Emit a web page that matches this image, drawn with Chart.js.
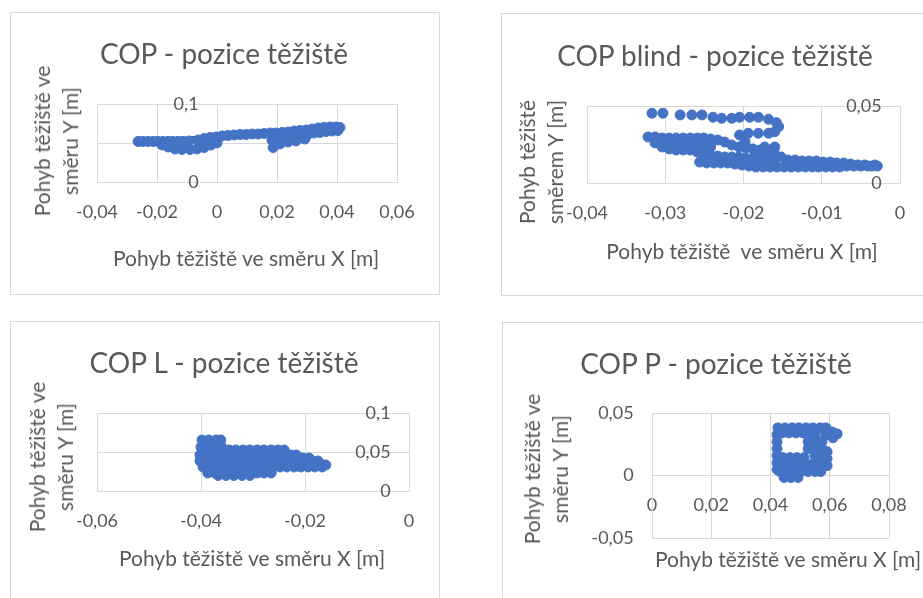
<!DOCTYPE html>
<html>
<head>
<meta charset="utf-8">
<script src="https://cdn.jsdelivr.net/npm/chart.js@4.4.0/dist/chart.umd.min.js"></script>
<style>
body{margin:0;width:923px;height:598px;overflow:hidden;background:#fff;font-family:Lato,sans-serif;color:#595959;position:relative}
.box{position:absolute;width:430px;outline:1px solid #d9d9d9;outline-offset:-1px}
.box canvas{position:absolute;left:0;top:0}
.t{position:absolute;white-space:nowrap;line-height:1;transform:translate(-50%,-50%)}
.title{font-size:28px}
.ax{font-size:21px}
.ay{font-size:21px;line-height:28px;text-align:center;transform:translate(-50%,-50%) rotate(-90deg)}
</style>
</head>
<body>
<div class="box" style="left:10px;top:12px;height:283px"><canvas id="c1" width="430" height="283"></canvas></div>
<div class="box" style="left:501px;top:13px;height:283px"><canvas id="c2" width="430" height="283"></canvas></div>
<div class="box" style="left:10px;top:321px;height:300px"><canvas id="c3" width="430" height="300"></canvas></div>
<div class="box" style="left:502px;top:322px;height:300px"><canvas id="c4" width="430" height="300"></canvas></div>

<div class="t title" style="left:224px;top:53px">COP - pozice těžiště</div>
<div class="t ay" style="left:56px;top:141px">Pohyb těžiště ve<br>směru Y [m]</div>
<div class="t ax" style="left:246px;top:257px">Pohyb těžiště ve směru X [m]</div>

<div class="t title" style="left:715px;top:55px">COP blind - pozice těžiště</div>
<div class="t ay" style="left:541px;top:162px">Pohyb těžiště<br>směrem Y [m]</div>
<div class="t ax" style="left:742px;top:250px">Pohyb těžiště&nbsp; ve směru X [m]</div>

<div class="t title" style="left:224px;top:362px">COP L - pozice těžiště</div>
<div class="t ay" style="left:51px;top:457px">Pohyb těžiště ve<br>směru Y [m]</div>
<div class="t ax" style="left:252px;top:557px">Pohyb těžiště ve směru X [m]</div>

<div class="t title" style="left:716px;top:363px">COP P - pozice těžiště</div>
<div class="t ay" style="left:546px;top:469px">Pohyb těžiště ve<br>směru Y [m]</div>
<div class="t ax" style="left:788px;top:558px">Pohyb těžiště ve směru X [m]</div>

<script>
// COP
var copX = [-0.0263,-0.0247,-0.0230,-0.0213,-0.0197,-0.0180,-0.0163,-0.0147,-0.0130,-0.0113,-0.0093,-0.0063,-0.0043,-0.0023,-0.0003,
  -0.0183,-0.0163,-0.0140,-0.0117,-0.0090,-0.0067,-0.0043,-0.0020,0.0000,
  0.0017,0.0037,0.0057,0.0077,0.0097,0.0117,0.0137,0.0157,0.0177,
  0.0197,0.0217,0.0237,0.0257,0.0277,0.0297,0.0317,0.0337,0.0357,0.0377,0.0397,0.0410,
  0.0183,0.0203,0.0223,0.0243,0.0263,0.0283,0.0303,0.0323,0.0343,0.0363,0.0383,0.0403,
  0.0187,0.0210,0.0237,0.0263,0.0293];
var copY = [0.0520,0.0520,0.0520,0.0520,0.0520,0.0520,0.0520,0.0520,0.0520,0.0520,0.0526,0.0538,0.0558,0.0571,0.0577,
  0.0474,0.0449,0.0423,0.0417,0.0417,0.0423,0.0442,0.0474,0.0500,
  0.0590,0.0596,0.0603,0.0609,0.0609,0.0615,0.0615,0.0622,0.0628,
  0.0628,0.0635,0.0641,0.0654,0.0660,0.0667,0.0679,0.0692,0.0699,0.0705,0.0705,0.0699,
  0.0538,0.0551,0.0564,0.0571,0.0583,0.0596,0.0609,0.0628,0.0635,0.0647,0.0654,0.0660,
  0.0442,0.0487,0.0513,0.0526,0.0551];

// COP blind
var blindX = [-0.0317,-0.0303,-0.0281,-0.0266,-0.0253,-0.0239,-0.0228,-0.0215,-0.0205,-0.0192,-0.0181,-0.0168,-0.0158,-0.0155,-0.0160,-0.0168,-0.0181,-0.0194,-0.0205,
  -0.0198,-0.0173,-0.0160,
  -0.0322,-0.0313,-0.0304,-0.0295,-0.0286,-0.0277,-0.0268,-0.0259,-0.0251,-0.0242,-0.0233,-0.0224,-0.0215,-0.0206,-0.0197,-0.0188,-0.0179,-0.0170,-0.0161,
  -0.0152,-0.0143,-0.0134,-0.0125,-0.0116,-0.0107,-0.0098,-0.0089,-0.0081,-0.0072,-0.0063,-0.0054,-0.0045,-0.0036,-0.0029,
  -0.0295,-0.0286,-0.0277,-0.0268,-0.0259,-0.0251,-0.0242,
  -0.0313,-0.0304,-0.0295,-0.0286,-0.0277,-0.0268,-0.0259,-0.0251,-0.0242,-0.0233,-0.0224,-0.0215,-0.0206,-0.0197,-0.0188,-0.0179,-0.0170,-0.0161,
  -0.0256,-0.0247,-0.0238,-0.0229,-0.0220,-0.0211,-0.0202,-0.0193,-0.0184,-0.0175,-0.0166,-0.0157,-0.0148,-0.0139,-0.0130,-0.0121,-0.0112,
  -0.0104,-0.0095,-0.0086,-0.0077,-0.0068,-0.0059,-0.0050,-0.0041,-0.0032];
var blindY = [0.0453,0.0453,0.0442,0.0442,0.0442,0.0427,0.0420,0.0420,0.0427,0.0427,0.0427,0.0414,0.0392,0.0366,0.0333,0.0323,0.0323,0.0323,0.0312,
  0.0266,0.0234,0.0234,
  0.0299,0.0299,0.0292,0.0292,0.0292,0.0292,0.0292,0.0292,0.0292,0.0286,0.0279,0.0266,0.0247,0.0234,0.0227,0.0221,0.0214,0.0208,0.0201,
  0.0169,0.0149,0.0149,0.0143,0.0143,0.0143,0.0136,0.0136,0.0130,0.0130,0.0123,0.0117,0.0117,0.0110,0.0110,
  0.0260,0.0253,0.0253,0.0253,0.0247,0.0240,0.0234,
  0.0260,0.0234,0.0221,0.0214,0.0214,0.0214,0.0201,0.0195,0.0182,0.0175,0.0169,0.0169,0.0169,0.0162,0.0162,0.0162,0.0162,0.0156,
  0.0136,0.0130,0.0130,0.0130,0.0130,0.0123,0.0117,0.0110,0.0104,0.0104,0.0104,0.0104,0.0104,0.0104,0.0104,0.0104,0.0104,
  0.0104,0.0104,0.0104,0.0104,0.0110,0.0110,0.0110,0.0110,0.0117];

// COP L
var lX = [-0.0398,-0.0385,-0.0371,-0.0362,
  -0.0400,-0.0387,-0.0373,-0.0360,
  -0.0346,-0.0333,-0.0319,-0.0306,-0.0292,-0.0279,-0.0265,-0.0252,-0.0240,
  -0.0402,-0.0388,-0.0375,-0.0362,-0.0348,-0.0335,-0.0321,-0.0308,-0.0294,-0.0281,-0.0267,-0.0254,-0.0240,-0.0227,-0.0217,
  -0.0204,-0.0192,
  -0.0402,-0.0388,-0.0375,-0.0362,-0.0348,-0.0335,-0.0321,-0.0308,-0.0294,-0.0281,-0.0267,-0.0254,-0.0240,-0.0227,-0.0213,-0.0200,-0.0187,-0.0175,
  -0.0165,-0.0160,
  -0.0396,-0.0383,-0.0369,-0.0356,-0.0342,-0.0329,-0.0315,-0.0302,-0.0288,-0.0275,-0.0262,-0.0248,-0.0235,-0.0221,-0.0208,-0.0194,-0.0181,-0.0167,
  -0.0387,-0.0373,-0.0360,-0.0346,-0.0333,-0.0319,-0.0306,-0.0292,-0.0279,-0.0265,
  -0.0367,-0.0352,-0.0337,-0.0321,-0.0306];
var lY = [0.0654,0.0654,0.0654,0.0654,
  0.0564,0.0564,0.0564,0.0564,
  0.0526,0.0526,0.0526,0.0526,0.0526,0.0526,0.0526,0.0526,0.0526,
  0.0462,0.0462,0.0462,0.0462,0.0462,0.0462,0.0462,0.0462,0.0462,0.0462,0.0462,0.0462,0.0462,0.0462,0.0462,
  0.0423,0.0423,
  0.0385,0.0385,0.0385,0.0385,0.0385,0.0385,0.0385,0.0385,0.0385,0.0385,0.0385,0.0385,0.0385,0.0385,0.0385,0.0385,0.0385,0.0385,
  0.0333,0.0333,
  0.0308,0.0308,0.0308,0.0308,0.0308,0.0308,0.0308,0.0308,0.0308,0.0308,0.0308,0.0308,0.0308,0.0308,0.0308,0.0308,0.0308,0.0308,
  0.0231,0.0231,0.0231,0.0231,0.0231,0.0231,0.0231,0.0231,0.0231,0.0231,
  0.0199,0.0199,0.0199,0.0199,0.0199];

// COP P
var pX = [0.0425,0.0449,0.0473,0.0496,0.0520,0.0543,0.0567,0.0587,
  0.0439,0.0462,0.0486,0.0510,
  0.0608,0.0625,0.0611,0.0587,
  0.0422,0.0422,0.0422,0.0422,0.0422,0.0422,
  0.0527,0.0527,0.0527,
  0.0550,0.0550,0.0550,0.0550,
  0.0574,0.0574,0.0574,0.0574,
  0.0591,0.0591,0.0591,
  0.0442,0.0466,0.0489,0.0513,
  0.0442,0.0466,0.0489,0.0513,0.0537,0.0560,
  0.0432,0.0456,0.0479,0.0503,0.0527,0.0550,0.0570,
  0.0446,0.0469,0.0493];
var pY = [0.0381,0.0381,0.0381,0.0381,0.0381,0.0381,0.0381,0.0381,
  0.0341,0.0341,0.0341,0.0341,
  0.0349,0.0333,0.0302,0.0325,
  0.0325,0.0270,0.0214,0.0159,0.0103,0.0048,
  0.0325,0.0270,0.0214,
  0.0325,0.0270,0.0214,0.0159,
  0.0270,0.0214,0.0159,0.0103,
  0.0190,0.0135,0.0079,
  0.0143,0.0143,0.0143,0.0143,
  0.0087,0.0087,0.0087,0.0087,0.0087,0.0087,
  0.0032,0.0032,0.0032,0.0032,0.0032,0.0032,0.0032,
  -0.0016,-0.0016,-0.0016];

// axis ranges: min, max, step
var copXAxis = [-0.04, 0.06, 0.02], copYAxis = [0, 0.1, 0.05];
var blindXAxis = [-0.04, 0, 0.01], blindYAxis = [0, 0.05, 0.05];
var lXAxis = [-0.06, 0, 0.02], lYAxis = [0, 0.1, 0.05];
var pXAxis = [0, 0.08, 0.02], pYAxis = [-0.05, 0.05, 0.05];

var grey = '#595959';
var gridCol = '#d9d9d9';
var tickFont = {family: 'Lato', size: 18};

function fmt(v) {
  return String(Math.round(v * 1000) / 1000).replace('.', ',');
}

function makeChart(id, xs, ys, xa, ya, pad) {
  var pts = xs.map(function(x, i) { return {x: x, y: ys[i]}; });
  return new Chart(document.getElementById(id), {
    type: 'scatter',
    data: {
      datasets: [{
        data: pts,
        yAxisID: 'y',
        pointRadius: 5,
        pointBorderWidth: 1,
        backgroundColor: '#4472c4',
        borderColor: '#4472c4'
      }]
    },
    options: {
      responsive: false,
      animation: false,
      events: [],
      layout: {padding: pad},
      plugins: {legend: {display: false}, tooltip: {enabled: false}},
      scales: {
        x: {
          type: 'linear', position: {y: 0},
          min: xa[0], max: xa[1],
          ticks: {stepSize: xa[2], autoSkip: false, maxRotation: 0, padding: 19, color: grey, font: tickFont, callback: fmt},
          grid: {color: gridCol, drawTicks: false},
          border: {color: gridCol}
        },
        y: {
          type: 'linear', position: {x: 0},
          min: ya[0], max: ya[1],
          ticks: {stepSize: ya[2], display: false},
          grid: {color: gridCol, drawTicks: false},
          border: {color: gridCol}
        },
        yl: {
          type: 'linear', axis: 'y', position: {x: 0}, z: 1,
          min: ya[0], max: ya[1],
          ticks: {stepSize: ya[2], color: grey, font: tickFont, callback: function(v) { return fmt(v) + '    '; }},
          grid: {display: false, drawTicks: false},
          border: {display: false}
        }
      }
    }
  });
}

makeChart('c1', copX, copY, copXAxis, copYAxis, {left: 87, right: 43, top: 92, bottom: 113});
makeChart('c2', blindX, blindY, blindXAxis, blindYAxis, {left: 86, right: 31, top: 93, bottom: 113});
makeChart('c3', lX, lY, lXAxis, lYAxis, {left: 87, right: 31, top: 92, bottom: 130});
makeChart('c4', pX, pY, pXAxis, pYAxis, {left: 150, right: 43, top: 91, bottom: 84});
</script>
</body>
</html>
